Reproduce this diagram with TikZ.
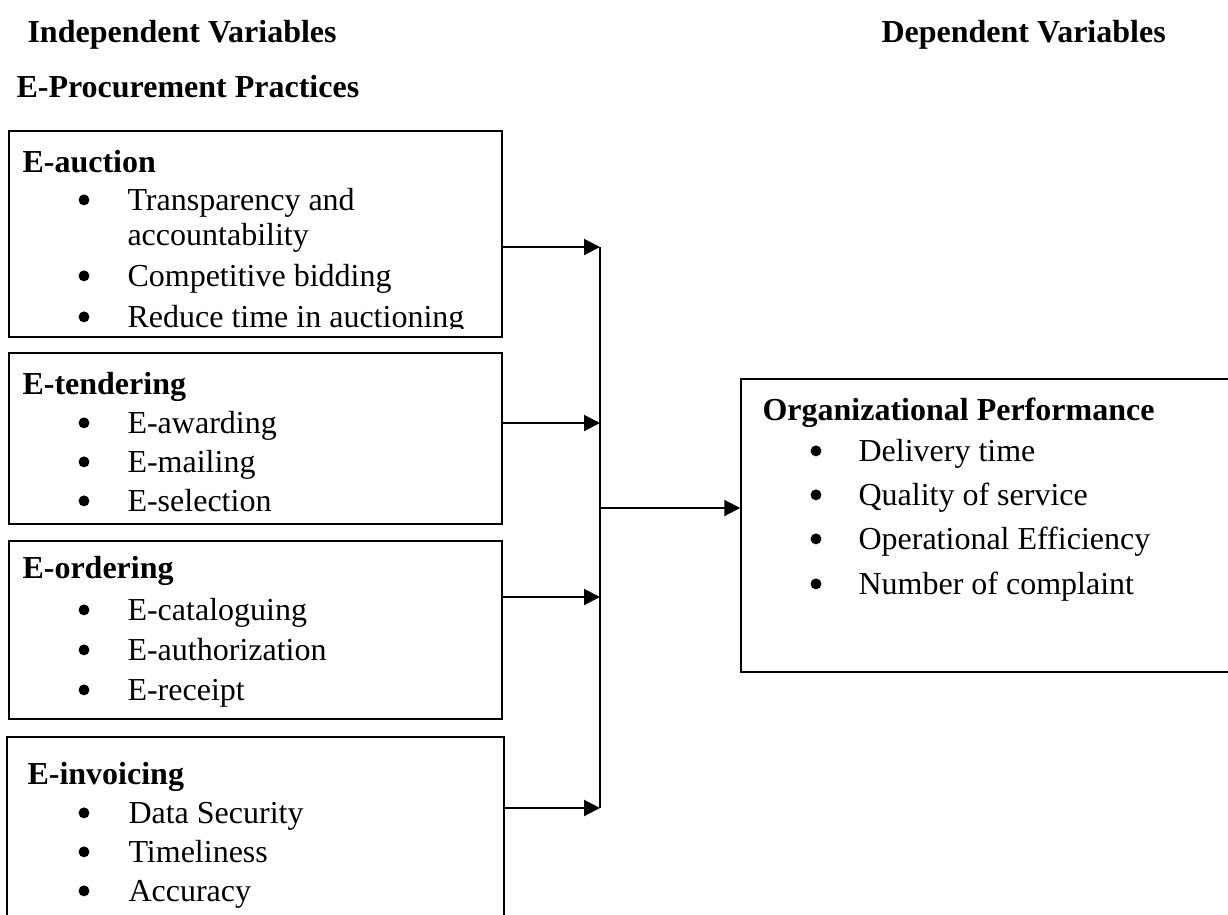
\documentclass[tikz,border=0pt]{standalone}
\usepackage{fontspec}
\setmainfont{Liberation Serif}
\usetikzlibrary{arrows.meta,fit}
\begin{document}
\begin{tikzpicture}[x=0.375pt,y=-0.375pt,
  txt/.style={anchor=base west, inner sep=0pt, font=\fontsize{12}{14}\selectfont},
  hd/.style={anchor=base west, inner sep=0pt, font=\fontsize{12}{14}\selectfont\bfseries},
  bul/.style={circle, fill, inner sep=0pt, minimum size=4.1pt, yshift=3.8pt},
  box/.style={draw, line width=0.55pt, inner sep=0pt},
  arr/.style={line width=0.75pt, -{Triangle[length=6pt,width=6pt]}},
  vline/.style={line width=0.4pt}]
\useasboundingbox (0,0) rectangle (1228,914);
\begin{scope}
\clip (0,0) rectangle (1228,914);
% titles
\node[hd] (ind) at (27,42) {Independent Variables};
\node[hd] (dep) at (881,42) {Dependent Variables};
\node[hd] (epp) at (16,97) {E-Procurement Practices};
% boxes
\node[box, fit={(9,131) (502,337)}] (b1) {};
\node[box, fit={(9,353) (502,524)}] (b2) {};
\node[box, fit={(9,541) (502,719)}] (b3) {};
\node[box, fit={(7,737) (504,940)}] (b4) {};
\node[box, fit={(741,379) (1250,672)}] (op) {};
% box 1
\node[hd] (h1) at (22,172) {E-auction};
\node[bul] (d11) at (84,210) {};
\node[txt] (i11) at (127,210) {Transparency and};
\node[txt] (i11b) at (127,245) {accountability};
\node[bul] (d12) at (84,286) {};
\node[txt] (i12) at (127,286) {Competitive bidding};
\begin{scope}
\clip (0,131) rectangle (502,328);
\node[bul] (d13) at (84,327) {};
\node[txt] (i13) at (127,327) {Reduce time in auctioning};
\end{scope}
% box 2
\node[hd] (h2) at (22,394) {E-tendering};
\node[bul] (d21) at (84,433) {};
\node[txt] (i21) at (127,433) {E-awarding};
\node[bul] (d22) at (84,472) {};
\node[txt] (i22) at (127,472) {E-mailing};
\node[bul] (d23) at (84,511) {};
\node[txt] (i23) at (127,511) {E-selection};
% box 3
\node[hd] (h3) at (22,578) {E-ordering};
\node[bul] (d31) at (84,620) {};
\node[txt] (i31) at (127,620) {E-cataloguing};
\node[bul] (d32) at (84,660) {};
\node[txt] (i32) at (127,660) {E-authorization};
\node[bul] (d33) at (84,700) {};
\node[txt] (i33) at (127,700) {E-receipt};
% box 4
\node[hd] (h4) at (27,784) {E-invoicing};
\node[bul] (d41) at (84,823) {};
\node[txt] (i41) at (128,823) {Data Security};
\node[bul] (d42) at (84,862) {};
\node[txt] (i42) at (128,862) {Timeliness};
\node[bul] (d43) at (84,901) {};
\node[txt] (i43) at (128,901) {Accuracy};
% right box
\node[hd] (h5) at (762,420) {Organizational Performance};
\node[bul] (d51) at (816,461) {};
\node[txt] (i51) at (858,461) {Delivery time};
\node[bul] (d52) at (816,505) {};
\node[txt] (i52) at (858,505) {Quality of service};
\node[bul] (d53) at (816,549) {};
\node[txt] (i53) at (858,549) {Operational Efficiency};
\node[bul] (d54) at (816,594) {};
\node[txt] (i54) at (858,594) {Number of complaint};
% connectors
\coordinate (j1) at (600,247);
\coordinate (j2) at (600,423);
\coordinate (j3) at (600,597);
\coordinate (j4) at (600,808);
\coordinate (jm) at (600,508);
\draw[arr] (b1.east |- j1) -- (j1);
\draw[arr] (b2.east |- j2) -- (j2);
\draw[arr] (b3.east |- j3) -- (j3);
\draw[arr] (b4.east |- j4) -- (j4);
\draw[vline] (j1) -- (j4);
\draw[arr] (jm) -- (op.west |- jm);
\end{scope}
\end{tikzpicture}
\end{document}
